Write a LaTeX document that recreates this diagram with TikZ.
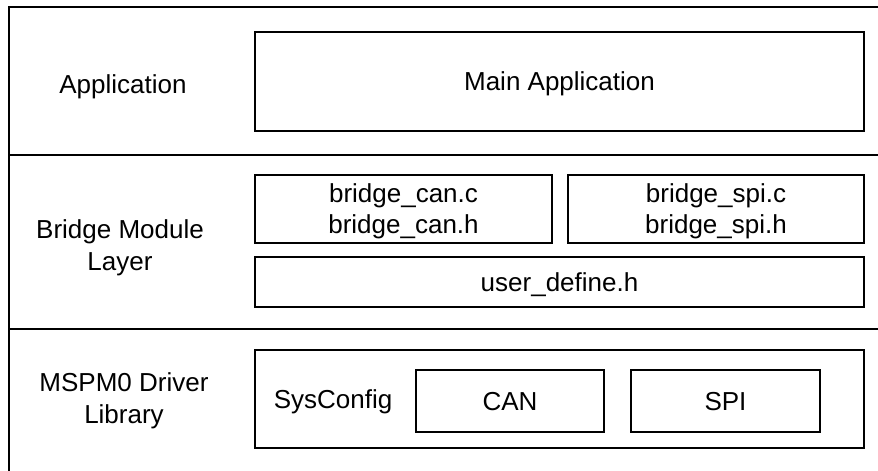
\documentclass[tikz,border=0pt]{standalone}
\usepackage{fontspec}
\setmainfont{Liberation Sans}
\usetikzlibrary{positioning}

\begin{document}
\begin{tikzpicture}
	[x=1pt,y=-1pt,
	block/.style={draw=black,line width=2.5pt,inner sep=0pt,align=center,
		text depth=0pt,font=\fontsize{26}{31}\selectfont},
	layer/.style={align=center,text depth=0pt,font=\fontsize{26}{32}\selectfont},
	frame/.style={draw=black,line width=2.5pt}]

	\useasboundingbox (0,0) rectangle (878,471);

	% Draw the layer frame
	\draw[frame] (9,471) -- (9,7) -- (878,7);
	\draw[frame] (9,155) -- (878,155)
	             (9,329) -- (878,329);

	% Draw the layer names
	\draw node at (123,84) [layer](applabel){Application}
		node at (120,245) [layer](bridgelabel){Bridge Module\\Layer}
		node at (124,398) [layer](driverlabel){MSPM0 Driver\\Library};

	% Draw the blocks
	\draw node at (559.5,81.5) [block,minimum width=609,minimum height=99](mainapp){Main Application}
		node at (403.5,209) [block,minimum width=297,minimum height=68](bridgecan){bridge\_can.c\\bridge\_can.h}
		node at (716,209) [block,minimum width=296,minimum height=68](bridgespi){bridge\_spi.c\\bridge\_spi.h}
		node at (559.5,282) [block,minimum width=609,minimum height=50](userdef){user\_define.h}
		node at (559.5,399) [block,minimum width=609,minimum height=98](sysconfig){}
		node at (510,401) [block,minimum width=188,minimum height=62](can){CAN}
		node at (725.5,401) [block,minimum width=189,minimum height=62](spi){SPI};

	\draw node at (333,399) [layer](sysconfiglabel){SysConfig};
\end{tikzpicture}
\end{document}
